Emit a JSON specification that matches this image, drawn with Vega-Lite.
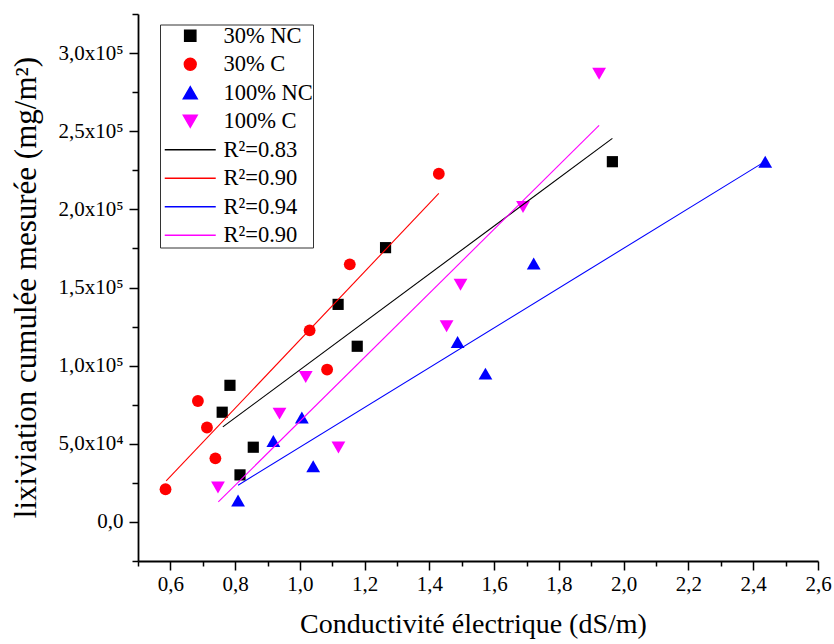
{
  "$schema": "https://vega.github.io/schema/vega-lite/v6.json",
  "width": 680,
  "height": 547,
  "autosize": {"type": "none"},
  "padding": {"left": 138, "top": 14, "right": 16, "bottom": 83},
  "background": "white",
  "config": {
    "view": {"stroke": null},
    "font": "Liberation Serif",
    "axis": {
      "grid": false,
      "domainColor": "#000",
      "domainWidth": 1.8,
      "tickColor": "#000",
      "tickWidth": 1.5,
      "labelColor": "#000",
      "titleColor": "#000",
      "labelFont": "Liberation Serif",
      "titleFont": "Liberation Serif",
      "labelFontSize": 21,
      "titleFontWeight": "normal",
      "labelOverlap": false,
      "labelFlush": false,
      "labelBound": false
    },
    "legend": {
      "title": null,
      "orient": "none",
      "padding": 0,
      "strokeColor": "#333",
      "fillColor": "white",
      "symbolSize": 400,
      "symbolOffset": 19,
      "labelOffset": 22,
      "rowPadding": 5.5,
      "labelFontSize": 22.5,
      "labelFont": "Liberation Serif",
      "labelColor": "#000"
    }
  },
  "resolve": {"axis": {"x": "independent", "y": "independent"}},
  "datasets": {
    "pts": [
      {"k": "p1", "x": 1.2645, "y": 175500},
      {"k": "p1", "x": 1.118, "y": 139200},
      {"k": "p1", "x": 1.177, "y": 112400},
      {"k": "p1", "x": 0.784, "y": 87400},
      {"k": "p1", "x": 0.76, "y": 70200},
      {"k": "p1", "x": 0.856, "y": 47800},
      {"k": "p1", "x": 0.815, "y": 30100},
      {"k": "p1", "x": 1.965, "y": 230500},
      {"k": "p2", "x": 0.585, "y": 20900},
      {"k": "p2", "x": 0.685, "y": 77400},
      {"k": "p2", "x": 0.713, "y": 60400},
      {"k": "p2", "x": 0.739, "y": 40700},
      {"k": "p2", "x": 1.03, "y": 122600},
      {"k": "p2", "x": 1.084, "y": 97500},
      {"k": "p2", "x": 1.154, "y": 164800},
      {"k": "p2", "x": 1.429, "y": 222800},
      {"k": "p3", "x": 0.809, "y": 13700},
      {"k": "p3", "x": 0.918, "y": 51800},
      {"k": "p3", "x": 1.006, "y": 66800},
      {"k": "p3", "x": 1.041, "y": 35600},
      {"k": "p3", "x": 1.487, "y": 115100},
      {"k": "p3", "x": 1.573, "y": 94900},
      {"k": "p3", "x": 1.722, "y": 165300},
      {"k": "p3", "x": 2.437, "y": 230500},
      {"k": "p4", "x": 0.747, "y": 22000},
      {"k": "p4", "x": 0.937, "y": 69300},
      {"k": "p4", "x": 1.018, "y": 92700},
      {"k": "p4", "x": 1.119, "y": 47600},
      {"k": "p4", "x": 1.453, "y": 125200},
      {"k": "p4", "x": 1.496, "y": 151800},
      {"k": "p4", "x": 1.689, "y": 201500},
      {"k": "p4", "x": 1.924, "y": 286800}
    ],
    "lns": [
      {"k": "l1", "x": 0.762, "y": 60800},
      {"k": "l1", "x": 1.965, "y": 245400},
      {"k": "l2", "x": 0.587, "y": 26200},
      {"k": "l2", "x": 1.429, "y": 210200},
      {"k": "l3", "x": 0.809, "y": 23500},
      {"k": "l3", "x": 2.428, "y": 229600},
      {"k": "l4", "x": 0.748, "y": 12800},
      {"k": "l4", "x": 1.924, "y": 253700}
    ]
  },
  "layer": [
    {
      "data": {"name": "pts"},
      "mark": {"type": "point", "filled": true, "opacity": 1},
      "encoding": {
        "x": {
          "field": "x",
          "type": "quantitative",
          "scale": {"domain": [0.5, 2.6], "nice": false, "zero": false},
          "axis": {
            "orient": "bottom",
            "values": [0.6, 0.8, 1.0, 1.2, 1.4, 1.6, 1.8, 2.0, 2.2, 2.4, 2.6],
            "labelExpr": "replace(format(datum.value, '.1f'), '.', ',')",
            "labelFont": "Liberation Serif",
            "labelFontSize": 21,
            "tickSize": 9,
            "labelPadding": 3,
            "title": "Conductivité électrique (dS/m)",
            "titleFontSize": 28,
            "titleX": 335,
            "titleY": 71,
            "titleBaseline": "alphabetic",
            "titleAlign": "center"
          }
        },
        "y": {
          "field": "y",
          "type": "quantitative",
          "scale": {"domain": [-25000, 325000], "nice": false, "zero": false},
          "axis": {
            "orient": "left",
            "values": [0, 50000, 100000, 150000, 200000, 250000, 300000],
            "labelExpr": "datum.value == 0 ? '0,0' : (datum.value < 100000 ? replace(format(datum.value/10000, '.1f'), '.', ',') + 'x10⁴' : replace(format(datum.value/100000, '.1f'), '.', ',') + 'x10⁵')",
            "labelFont": "Liberation Serif",
            "labelFontSize": 21,
            "tickSize": 9,
            "labelPadding": 6,
            "title": "lixiviation cumulée mesurée (mg/m²)",
            "titleFontSize": 31,
            "titleX": -103,
            "titleY": 273,
            "titleAngle": 270,
            "titleBaseline": "alphabetic",
            "titleAlign": "center"
          }
        },
        "color": {
          "field": "k",
          "type": "nominal",
          "scale": {
            "domain": ["p1", "p2", "p3", "p4", "l1", "l2", "l3", "l4"],
            "range": ["#000000", "#ff0000", "#0000ff", "#ff00ff", "#000000", "#ff0000", "#0000ff", "#ff00ff"]
          },
          "legend": {
            "legendX": 22,
            "legendY": 10.5,
            "labelExpr": "['30% NC','30% C','100% NC','100% C','R²=0.83','R²=0.90','R²=0.94','R²=0.90'][indexof(['p1','p2','p3','p4','l1','l2','l3','l4'], datum.value)]",
            "encode": {
              "legend": {"update": {"strokeWidth": {"value": 1.3}}},
              "symbols": {
                "update": {
                  "fill": {"signal": "substring(datum.value,0,1) == 'p' ? scale('color', datum.value) : 'transparent'"},
                  "stroke": {"signal": "scale('color', datum.value)"},
                  "strokeWidth": {"signal": "substring(datum.value,0,1) == 'p' ? 0 : 1.2"},
                  "opacity": {"value": 1}
                }
              }
            }
          }
        },
        "shape": {
          "field": "k",
          "type": "nominal",
          "scale": {
            "domain": ["p1", "p2", "p3", "p4", "l1", "l2", "l3", "l4"],
            "range": ["square", "circle", "triangle-up", "triangle-down", "M-2.55,0L2.55,0", "M-2.55,0L2.55,0", "M-2.55,0L2.55,0", "M-2.55,0L2.55,0"]
          },
          "legend": {
            "legendX": 22,
            "legendY": 10.5,
            "labelExpr": "['30% NC','30% C','100% NC','100% C','R²=0.83','R²=0.90','R²=0.94','R²=0.90'][indexof(['p1','p2','p3','p4','l1','l2','l3','l4'], datum.value)]",
            "encode": {
              "legend": {"update": {"strokeWidth": {"value": 1.3}}},
              "symbols": {
                "update": {
                  "fill": {"signal": "substring(datum.value,0,1) == 'p' ? scale('color', datum.value) : 'transparent'"},
                  "stroke": {"signal": "scale('color', datum.value)"},
                  "strokeWidth": {"signal": "substring(datum.value,0,1) == 'p' ? 0 : 1.2"},
                  "opacity": {"value": 1}
                }
              }
            }
          }
        },
        "size": {
          "field": "k",
          "type": "nominal",
          "scale": {
            "type": "ordinal",
            "domain": ["p1", "p2", "p3", "p4", "l1", "l2", "l3", "l4"],
            "range": [125, 140, 190, 190, 400, 400, 400, 400]
          },
          "legend": {
            "legendX": 22,
            "legendY": 10.5,
            "labelExpr": "['30% NC','30% C','100% NC','100% C','R²=0.83','R²=0.90','R²=0.94','R²=0.90'][indexof(['p1','p2','p3','p4','l1','l2','l3','l4'], datum.value)]",
            "encode": {
              "legend": {"update": {"strokeWidth": {"value": 1.3}}},
              "symbols": {
                "update": {
                  "fill": {"signal": "substring(datum.value,0,1) == 'p' ? scale('color', datum.value) : 'transparent'"},
                  "stroke": {"signal": "scale('color', datum.value)"},
                  "strokeWidth": {"signal": "substring(datum.value,0,1) == 'p' ? 0 : 1.2"},
                  "opacity": {"value": 1}
                }
              }
            }
          }
        }
      }
    },
    {
      "data": {"name": "lns"},
      "mark": {"type": "line", "strokeWidth": 1.1},
      "encoding": {
        "x": {
          "field": "x",
          "type": "quantitative",
          "axis": {
            "orient": "bottom",
            "values": [0.5, 0.7, 0.9, 1.1, 1.3, 1.5, 1.7, 1.9, 2.1, 2.3, 2.5],
            "tickSize": 5,
            "labels": false,
            "domain": false,
            "title": null
          }
        },
        "y": {
          "field": "y",
          "type": "quantitative",
          "axis": {
            "orient": "left",
            "values": [-25000, 25000, 75000, 125000, 175000, 225000, 275000, 325000],
            "tickSize": 6,
            "labels": false,
            "domain": false,
            "title": null
          }
        },
        "color": {"field": "k", "type": "nominal"}
      }
    }
  ]
}
